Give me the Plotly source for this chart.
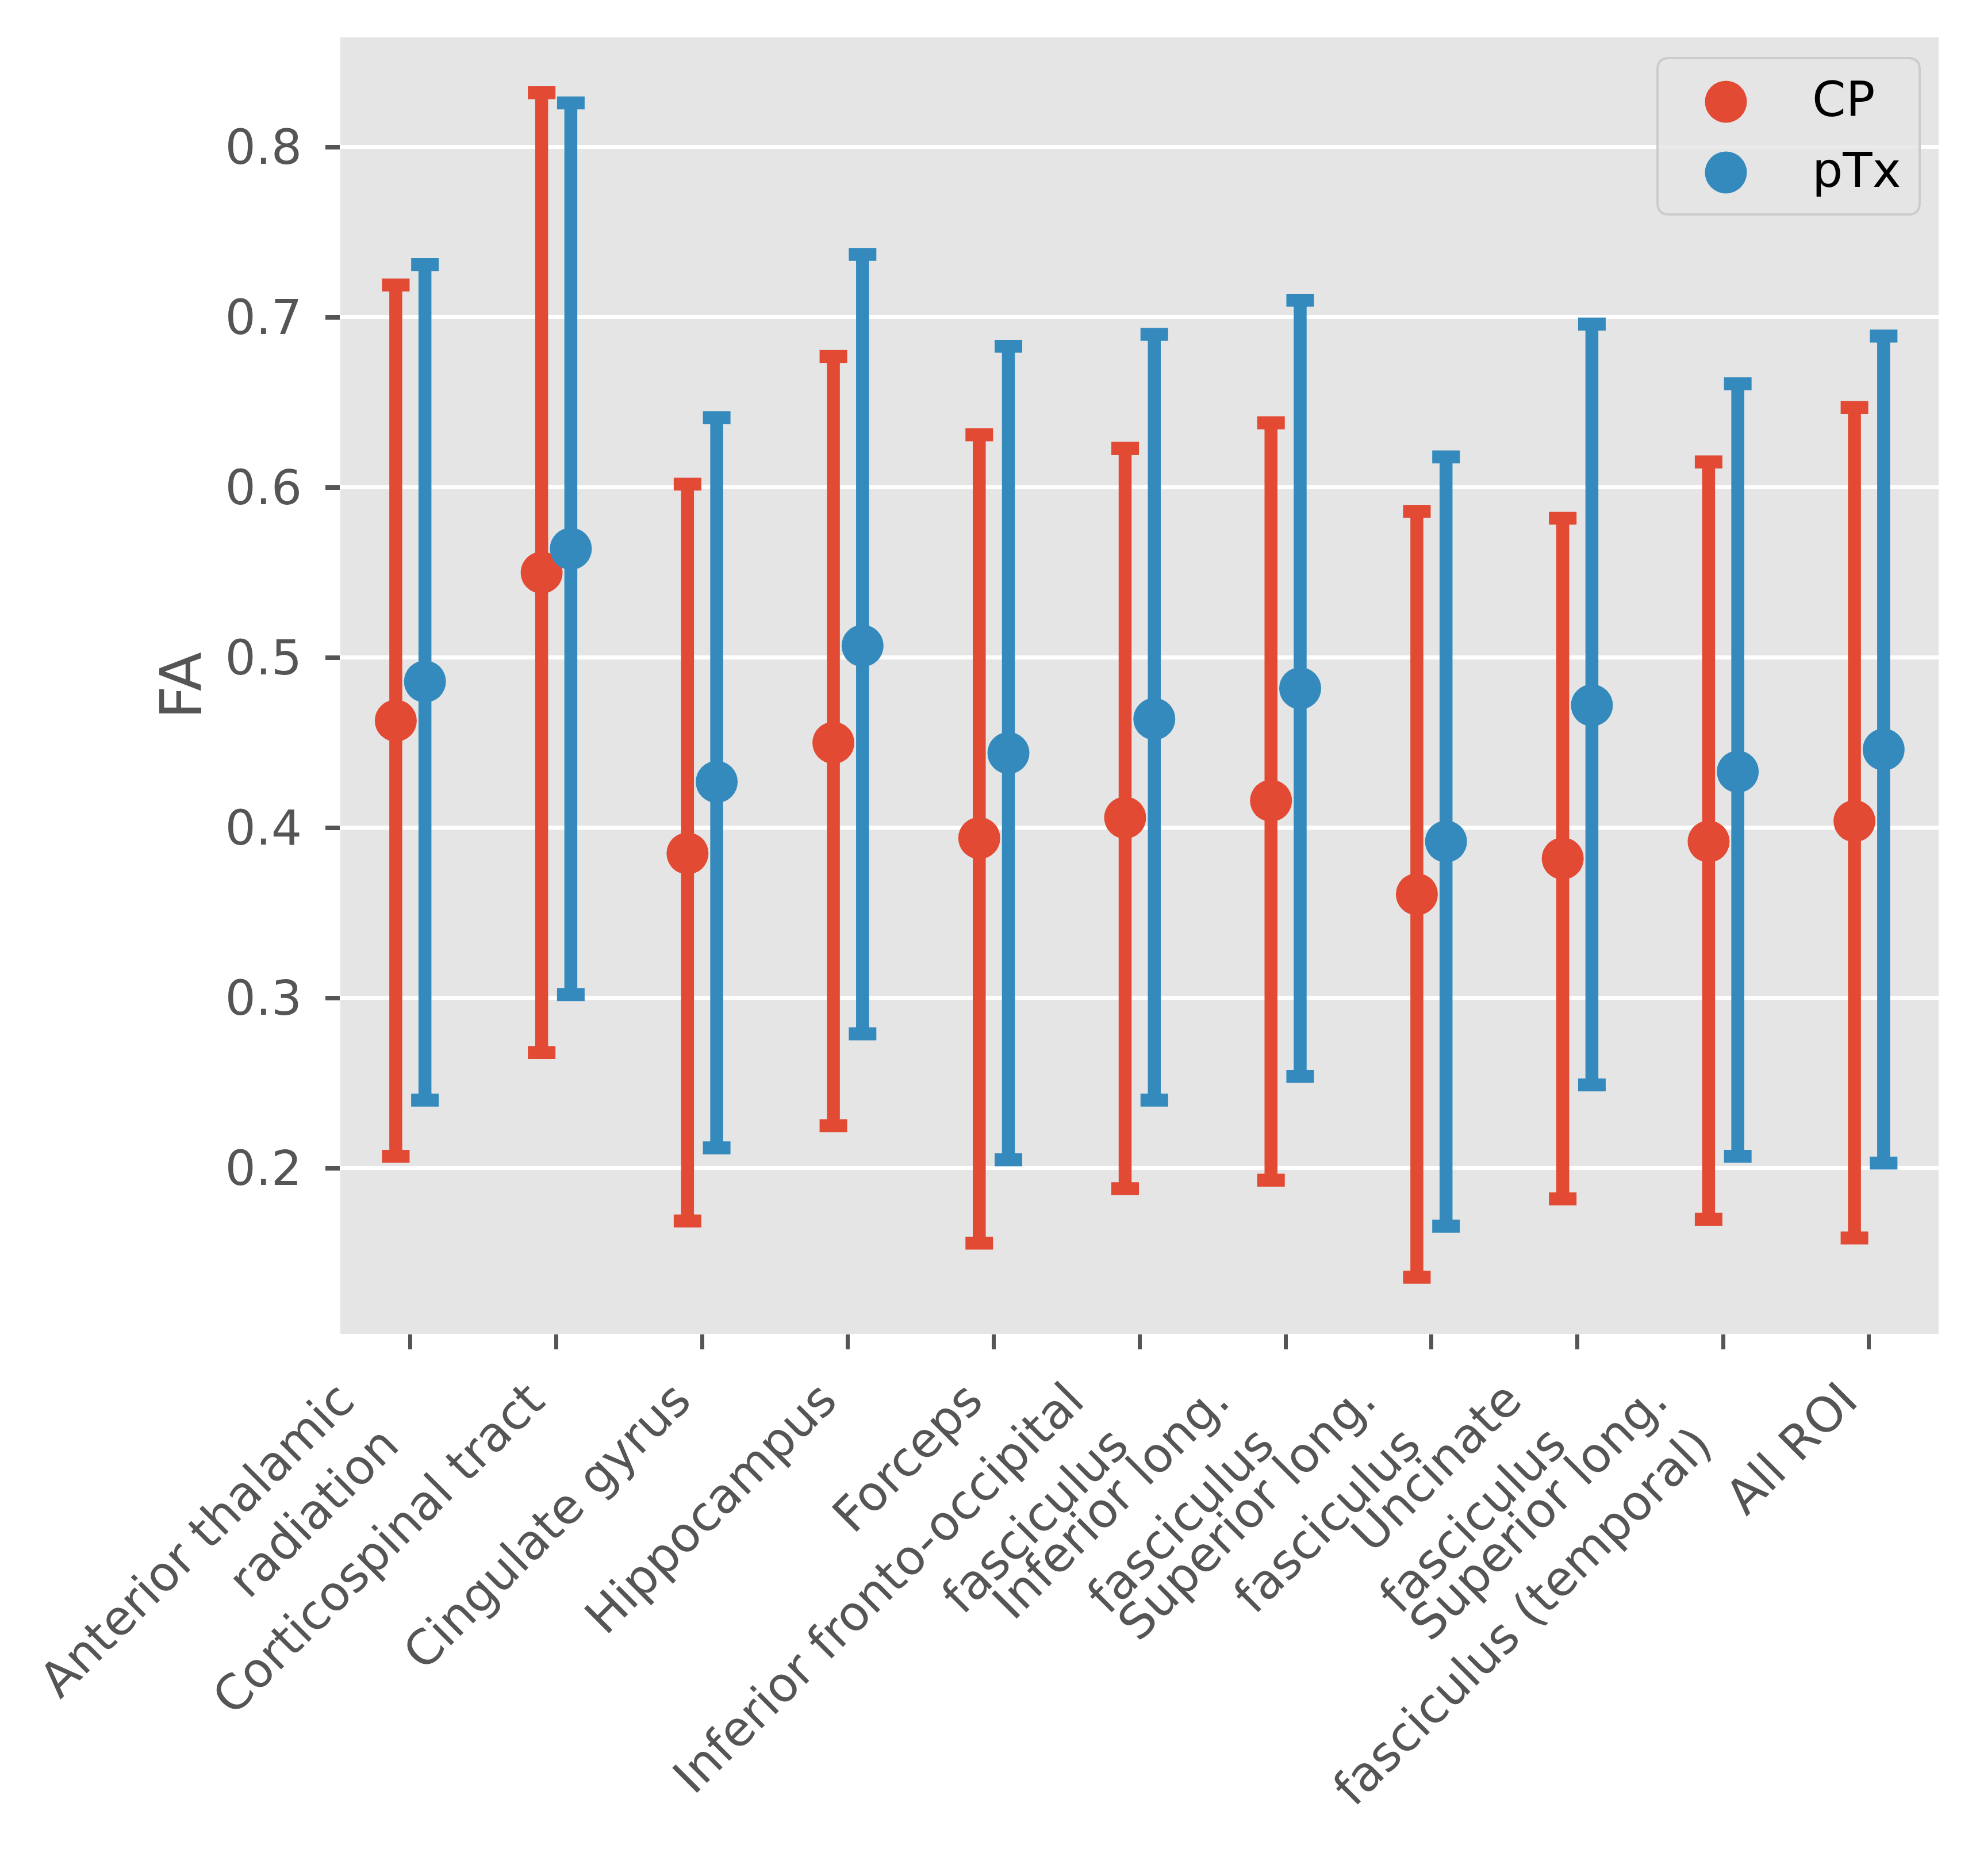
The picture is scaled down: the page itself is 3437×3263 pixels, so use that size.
import plotly.graph_objects as go

# ---------------- data ----------------
regions = [
    "Anterior thalamic<br>radiation",
    "Corticospinal tract",
    "Cingulate gyrus",
    "Hippocampus",
    "Forceps",
    "Inferior fronto-occipital<br>fasciculus",
    "Inferior long.<br>fasciculus",
    "Superior long.<br>fasciculus",
    "Uncinate<br>fasciculus",
    "Superior long.<br>fasciculus (temporal)",
    "All ROI",
]
cp_mean = [0.463, 0.550, 0.385, 0.450, 0.394, 0.406, 0.416, 0.361, 0.382, 0.392, 0.404]
cp_low = [0.207, 0.268, 0.169, 0.225, 0.156, 0.188, 0.193, 0.136, 0.182, 0.170, 0.159]
cp_high = [0.719, 0.832, 0.602, 0.677, 0.631, 0.623, 0.638, 0.586, 0.582, 0.615, 0.647]
ptx_mean = [0.486, 0.564, 0.427, 0.507, 0.444, 0.464, 0.482, 0.392, 0.472, 0.433, 0.446]
ptx_low = [0.240, 0.302, 0.212, 0.279, 0.205, 0.240, 0.254, 0.166, 0.249, 0.207, 0.203]
ptx_high = [0.731, 0.826, 0.641, 0.737, 0.683, 0.690, 0.710, 0.618, 0.696, 0.661, 0.689]
y_ticks = [0.2, 0.3, 0.4, 0.5, 0.6, 0.7, 0.8]
y_tick_labels = ["0.2", "0.3", "0.4", "0.5", "0.6", "0.7", "0.8"]
series_names = ["CP", "pTx"]
series_colors = ["#E24A33", "#348ABD"]

# ---------------- layout constants ----------------
W, H = 3437, 3263
L, R, T, B = 592, 65, 65, 943
PW, PH = W - L - R, H - T - B
FONT = "DejaVu Sans"
GREY = "#555555"
TICK_FONT = 84

fig = go.Figure()


def add_series(name, means, lows, highs, offset, color):
    xs = [i + offset for i in range(len(means))]
    fig.add_trace(go.Scatter(
        x=xs, y=means, mode="markers", name=name, showlegend=False,
        marker=dict(size=73, color=color, line=dict(width=0)),
        error_y=dict(type="data", symmetric=False,
                     array=[h - m for h, m in zip(highs, means)],
                     arrayminus=[m - l for m, l in zip(means, lows)],
                     color=color, thickness=22.5, width=24),
    ))


add_series(series_names[0], cp_mean, cp_low, cp_high, -0.1, series_colors[0])
add_series(series_names[1], ptx_mean, ptx_low, ptx_high, 0.1, series_colors[1])


def px_to_paper_x(px):
    return (px - L) / PW


def px_to_paper_y(py):
    return (H - B - py) / PH


# ---------------- custom legend ----------------
bx0, bx1, by0, by1 = 2883, 3339, 101, 373
rad = 20
rx, ry = rad / PW, rad / PH
X0, X1 = px_to_paper_x(bx0), px_to_paper_x(bx1)
Y0, Y1 = px_to_paper_y(by1), px_to_paper_y(by0)
path = (f"M {X0+rx},{Y0} L {X1-rx},{Y0} Q {X1},{Y0} {X1},{Y0+ry} "
        f"L {X1},{Y1-ry} Q {X1},{Y1} {X1-rx},{Y1} "
        f"L {X0+rx},{Y1} Q {X0},{Y1} {X0},{Y1-ry} "
        f"L {X0},{Y0+ry} Q {X0},{Y0} {X0+rx},{Y0} Z")
shapes = [dict(type="path", path=path, xref="paper", yref="paper",
               fillcolor="rgba(229,229,229,0.8)",
               line=dict(color="#CCCCCC", width=4), layer="above")]
annotations = []
legend_rows = [177, 300]
for name, color, cy in zip(series_names, series_colors, legend_rows):
    shapes.append(dict(type="circle", xref="paper", yref="paper",
                       xsizemode="pixel", ysizemode="pixel",
                       xanchor=px_to_paper_x(3002), yanchor=px_to_paper_y(cy),
                       x0=-36.5, x1=36.5, y0=-36.5, y1=36.5,
                       fillcolor=color, line=dict(width=0), layer="above"))
    annotations.append(dict(text=name, xref="paper", yref="paper",
                            x=px_to_paper_x(3150), y=px_to_paper_y(cy - 4),
                            xanchor="left", yanchor="middle", showarrow=False,
                            font=dict(family=FONT, size=84, color="black")))

# rotated category labels (right/top anchored like matplotlib)
for i, lab in enumerate(regions):
    annotations.append(dict(text=lab, xref="x", yref="paper",
                            x=i, y=px_to_paper_y(2384),
                            xanchor="right", yanchor="top", align="right",
                            textangle=-45, showarrow=False, borderpad=0,
                            font=dict(family=FONT, size=TICK_FONT, color=GREY)))

# y-axis label
annotations.append(dict(text="FA", xref="paper", yref="paper",
                        x=px_to_paper_x(315), y=0.5, xanchor="center", yanchor="middle",
                        textangle=-90, showarrow=False,
                        font=dict(family=FONT, size=100, color=GREY)))

fig.update_layout(
    width=W, height=H,
    margin=dict(l=L, r=R, t=T, b=B, pad=0),
    paper_bgcolor="white", plot_bgcolor="#E5E5E5",
    font=dict(family=FONT, size=TICK_FONT, color=GREY),
    shapes=shapes, annotations=annotations,
    showlegend=False,
    xaxis=dict(range=[-0.48, 10.477], tickmode="array",
               tickvals=list(range(len(regions))), showticklabels=False,
               ticks="outside", ticklen=26, tickwidth=7,
               tickcolor=GREY, showgrid=False, zeroline=False, showline=False),
    yaxis=dict(range=[0.1027, 0.8645], tickmode="array",
               tickvals=y_ticks, ticktext=y_tick_labels,
               ticks="outside", ticklen=25, tickwidth=8, tickcolor=GREY,
               showgrid=True, gridcolor="white", gridwidth=7,
               zeroline=False, showline=False, ticklabelstandoff=24,
               tickfont=dict(family=FONT, size=TICK_FONT, color=GREY)),
)

fig.write_html("out.html", config={"displayModeBar": False},
               post_script="document.body.style.margin='0';")
